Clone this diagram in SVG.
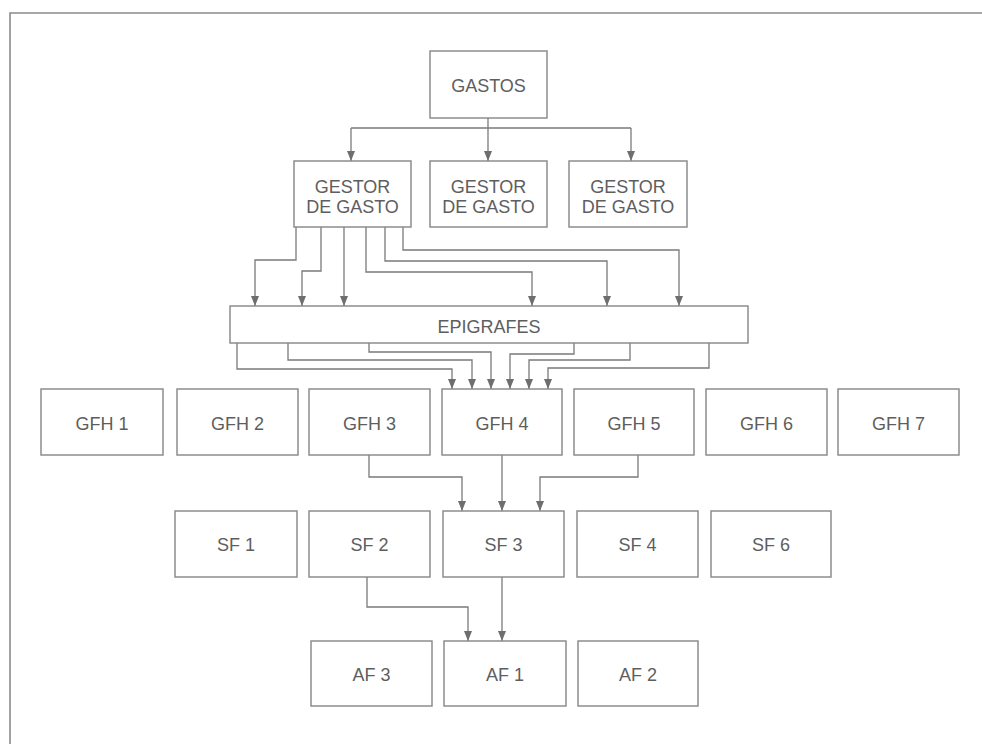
<svg xmlns="http://www.w3.org/2000/svg" width="982" height="744" viewBox="0 0 982 744">
<defs>
<marker id="ah" markerUnits="userSpaceOnUse" markerWidth="10" markerHeight="8" refX="10" refY="4" orient="auto" viewBox="0 0 10 8">
<path d="M0,0 L10,4 L0,8 Z" fill="#6e6e6e"/>
</marker>
</defs>
<style>
.box{fill:#fff;stroke:#858585;stroke-width:1.4}
.t{font-family:"Liberation Sans",Arial,sans-serif;font-size:18px;fill:#5e5e5e;text-anchor:middle}
.c{fill:none;stroke:#7a7a7a;stroke-width:1.3}
.frame{fill:none;stroke:#8a8a8a;stroke-width:1.6}
</style>
<rect width="982" height="744" fill="#fff"/>
<path class="frame" d="M10,744 L10,13 L982,13"/>
<g id="connectors">
<path class="c" d="M488,118 L488,128"/>
<path class="c" d="M351,128 L631,128"/>
<path class="c" d="M351,128 L351,161" marker-end="url(#ah)"/>
<path class="c" d="M488,128 L488,161" marker-end="url(#ah)"/>
<path class="c" d="M631,128 L631,161" marker-end="url(#ah)"/>
<path class="c" d="M296,227 L296,260 L255,260 L255,306" marker-end="url(#ah)"/>
<path class="c" d="M321,227 L321,271 L302,271 L302,306" marker-end="url(#ah)"/>
<path class="c" d="M344,227 L344,306" marker-end="url(#ah)"/>
<path class="c" d="M366,227 L366,272 L532,272 L532,306" marker-end="url(#ah)"/>
<path class="c" d="M385,227 L385,261 L607,261 L607,306" marker-end="url(#ah)"/>
<path class="c" d="M403,227 L403,250 L679,250 L679,306" marker-end="url(#ah)"/>
<path class="c" d="M237,343 L237,369 L452,369 L452,389" marker-end="url(#ah)"/>
<path class="c" d="M288,343 L288,360 L472,360 L472,389" marker-end="url(#ah)"/>
<path class="c" d="M369,343 L369,352 L491,352 L491,389" marker-end="url(#ah)"/>
<path class="c" d="M574,343 L574,354 L510,354 L510,389" marker-end="url(#ah)"/>
<path class="c" d="M630,343 L630,360 L529,360 L529,389" marker-end="url(#ah)"/>
<path class="c" d="M709,343 L709,368 L548,368 L548,389" marker-end="url(#ah)"/>
<path class="c" d="M369,455 L369,477 L462,477 L462,511" marker-end="url(#ah)"/>
<path class="c" d="M502,455 L502,511" marker-end="url(#ah)"/>
<path class="c" d="M638,455 L638,477 L540,477 L540,511" marker-end="url(#ah)"/>
<path class="c" d="M367,577 L367,607 L468,607 L468,641" marker-end="url(#ah)"/>
<path class="c" d="M502,577 L502,641" marker-end="url(#ah)"/>
</g>
<g id="gastos"><rect class="box" x="430" y="51" width="117" height="67"/><text class="t" x="488.5" y="91.5">GASTOS</text></g>
<g id="gestor1"><rect class="box" x="294" y="161" width="117" height="66"/><text class="t" x="352.5" y="192.5">GESTOR</text><text class="t" x="352.5" y="212.5">DE GASTO</text></g>
<g id="gestor2"><rect class="box" x="430" y="161" width="117" height="66"/><text class="t" x="488.5" y="192.5">GESTOR</text><text class="t" x="488.5" y="212.5">DE GASTO</text></g>
<g id="gestor3"><rect class="box" x="569" y="161" width="118" height="66"/><text class="t" x="628" y="192.5">GESTOR</text><text class="t" x="628" y="212.5">DE GASTO</text></g>
<g id="epigrafes"><rect class="box" x="230" y="306" width="518" height="37"/><text class="t" x="489" y="332.5">EPIGRAFES</text></g>
<g id="gfh1"><rect class="box" x="41" y="389" width="122" height="66"/><text class="t" x="102" y="429.5">GFH 1</text></g>
<g id="gfh2"><rect class="box" x="177" y="389" width="121" height="66"/><text class="t" x="237.5" y="429.5">GFH 2</text></g>
<g id="gfh3"><rect class="box" x="309" y="389" width="121" height="66"/><text class="t" x="369.5" y="429.5">GFH 3</text></g>
<g id="gfh4"><rect class="box" x="442" y="389" width="120" height="66"/><text class="t" x="502" y="429.5">GFH 4</text></g>
<g id="gfh5"><rect class="box" x="574" y="389" width="120" height="66"/><text class="t" x="634" y="429.5">GFH 5</text></g>
<g id="gfh6"><rect class="box" x="706" y="389" width="121" height="66"/><text class="t" x="766.5" y="429.5">GFH 6</text></g>
<g id="gfh7"><rect class="box" x="838" y="389" width="121" height="66"/><text class="t" x="898.5" y="429.5">GFH 7</text></g>
<g id="sf1"><rect class="box" x="175" y="511" width="122" height="66"/><text class="t" x="236" y="550.5">SF 1</text></g>
<g id="sf2"><rect class="box" x="309" y="511" width="121" height="66"/><text class="t" x="369.5" y="550.5">SF 2</text></g>
<g id="sf3"><rect class="box" x="443" y="511" width="121" height="66"/><text class="t" x="503.5" y="550.5">SF 3</text></g>
<g id="sf4"><rect class="box" x="577" y="511" width="121" height="66"/><text class="t" x="637.5" y="550.5">SF 4</text></g>
<g id="sf6"><rect class="box" x="711" y="511" width="120" height="66"/><text class="t" x="771" y="550.5">SF 6</text></g>
<g id="af3"><rect class="box" x="311" y="641" width="121" height="65"/><text class="t" x="371.5" y="680.5">AF 3</text></g>
<g id="af1"><rect class="box" x="444" y="641" width="122" height="65"/><text class="t" x="505" y="680.5">AF 1</text></g>
<g id="af2"><rect class="box" x="578" y="641" width="120" height="65"/><text class="t" x="638" y="680.5">AF 2</text></g>
</svg>
